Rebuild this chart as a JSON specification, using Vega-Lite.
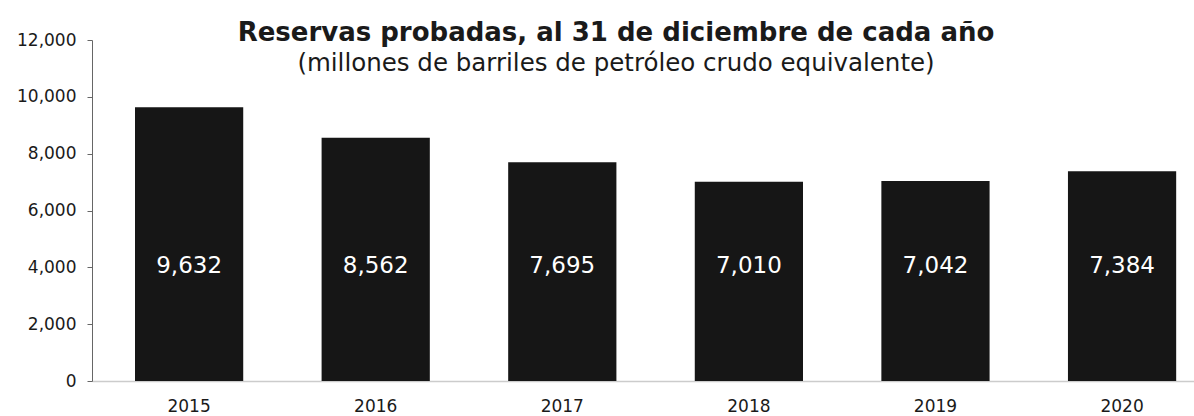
{
  "$schema": "https://vega.github.io/schema/vega-lite/v6.json",
  "autosize": {"type": "none"},
  "padding": {"left": 92, "top": 40, "right": 0, "bottom": 35},
  "width": 1102,
  "height": 341,
  "background": "white",
  "title": {
    "text": "Reservas probadas, al 31 de diciembre de cada año",
    "subtitle": "(millones de barriles de petróleo crudo equivalente)",
    "anchor": "middle",
    "dx": -27,
    "offset": -44,
    "font": "DejaVu Sans",
    "fontSize": 26,
    "fontWeight": "bold",
    "color": "#1a1a1a",
    "subtitleFont": "DejaVu Sans",
    "subtitleFontSize": 24.5,
    "subtitleColor": "#1a1a1a",
    "subtitlePadding": 6
  },
  "config": {
    "view": {"stroke": null},
    "font": "DejaVu Sans"
  },
  "data": {
    "values": [
      {"year": "2015", "value": 9632},
      {"year": "2016", "value": 8562},
      {"year": "2017", "value": 7695},
      {"year": "2018", "value": 7010},
      {"year": "2019", "value": 7042},
      {"year": "2020", "value": 7384}
    ]
  },
  "encoding": {
    "x": {
      "field": "year",
      "type": "ordinal",
      "scale": {"paddingInner": 0.42, "paddingOuter": 0.163, "align": 0.707},
      "axis": {
        "title": null,
        "labelAngle": 0,
        "ticks": false,
        "labelPadding": 17,
        "labelFontSize": 17,
        "labelColor": "#1a1a1a",
        "domainColor": "#cccccc",
        "domainWidth": 1.5
      }
    }
  },
  "layer": [
    {
      "mark": {"type": "bar", "color": "#161616"},
      "encoding": {
        "y": {
          "field": "value",
          "type": "quantitative",
          "scale": {"domain": [0, 12000]},
          "axis": {
            "title": null,
            "values": [0, 2000, 4000, 6000, 8000, 10000, 12000],
            "format": ",d",
            "grid": false,
            "tickSize": 5,
            "tickColor": "#666666",
            "domainColor": "#666666",
            "labelPadding": 11,
            "labelFontSize": 17,
            "labelColor": "#1a1a1a"
          }
        }
      }
    },
    {
      "mark": {"type": "text", "color": "white", "fontSize": 23, "baseline": "middle", "align": "center"},
      "encoding": {
        "y": {"datum": 4050},
        "text": {"field": "value", "type": "quantitative", "format": ",d"}
      }
    }
  ]
}
